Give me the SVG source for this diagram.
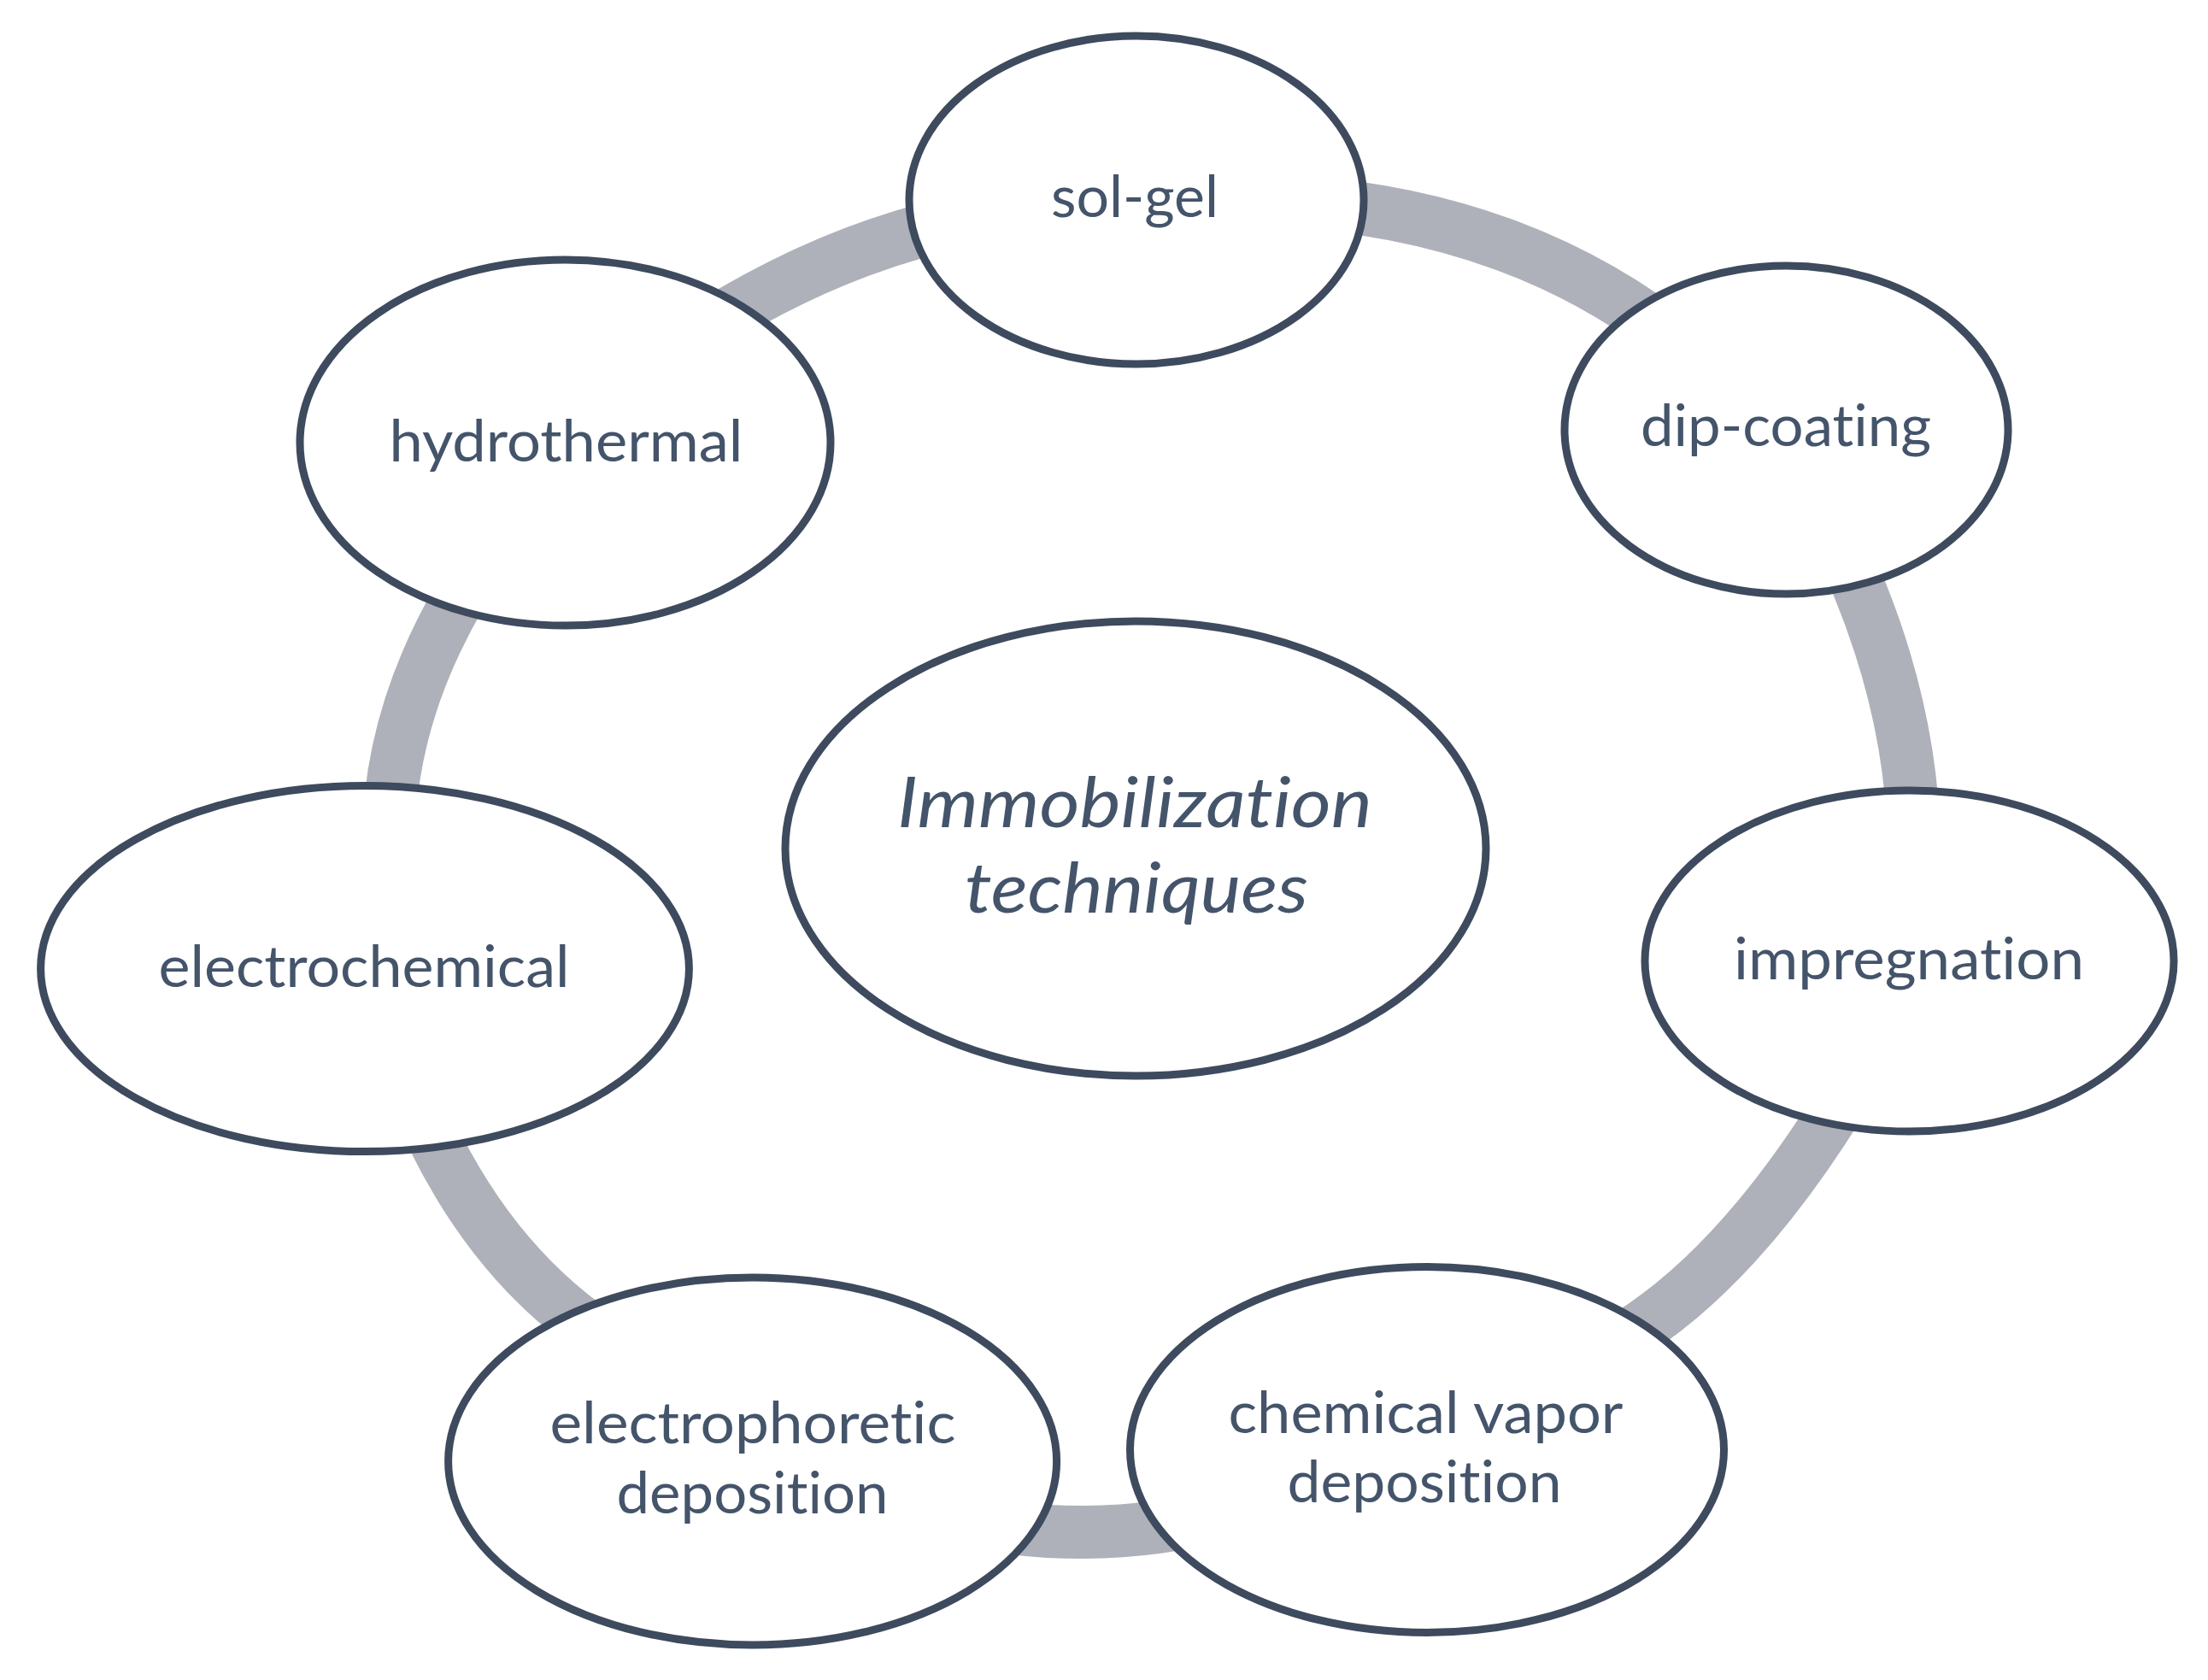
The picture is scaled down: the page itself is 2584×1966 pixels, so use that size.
<svg xmlns="http://www.w3.org/2000/svg" width="2584" height="1966" viewBox="0 0 2584 1966">
<style>
.ring{fill:none;stroke:#AEB1B9;stroke-width:62;stroke-linecap:butt}
.node{fill:#FFFFFF;stroke:#3E4A5D;stroke-width:9}
.lbl,.ctr{font-family:Lato,"Open Sans","Liberation Sans",sans-serif;fill:#44546A;text-anchor:middle;font-variant-ligatures:none;font-feature-settings:"liga" 0,"clig" 0}
.lbl{font-size:68px}
.ctr{font-size:82px;font-style:italic}
</style>
<rect x="0" y="0" width="2584" height="1966" fill="#FFFFFF"/>
<g id="connectors">
<path class="ring" d="M1520,236 Q1785,255.5 1970,405"/>
<path class="ring" d="M2145,620 Q2237.5,807 2240,990"/>
<path class="ring" d="M2175,1255 Q2047.5,1472.5 1910,1560"/>
<path class="ring" d="M1440,1770 Q1275,1813.5 1110,1775"/>
<path class="ring" d="M720,1575 Q562,1477.5 480,1270"/>
<path class="ring" d="M455,990 Q453,815 575,640"/>
<path class="ring" d="M800,400 Q965,291 1130,258"/>
</g>
<g id="node-center">
<ellipse class="node" cx="1329" cy="993" rx="410" ry="266"/>
<text class="ctr" x="1328" y="968" textLength="556" lengthAdjust="spacingAndGlyphs">Immobilization</text>
<text class="ctr" x="1330" y="1068" textLength="402" lengthAdjust="spacingAndGlyphs">techniques</text>
</g>
<g id="node-sol-gel">
<ellipse class="node" cx="1330" cy="234" rx="266" ry="192"/>
<text class="lbl" x="1328" y="254" textLength="196" lengthAdjust="spacingAndGlyphs">sol-gel</text>
</g>
<g id="node-dip-coating">
<ellipse class="node" cx="2090.5" cy="503" rx="259.5" ry="192"/>
<text class="lbl" x="2090" y="522" textLength="340" lengthAdjust="spacingAndGlyphs">dip-coating</text>
</g>
<g id="node-impregnation">
<ellipse class="node" cx="2234.5" cy="1124.5" rx="309.5" ry="199.5"/>
<text class="lbl" x="2234" y="1146" textLength="410" lengthAdjust="spacingAndGlyphs">impregnation</text>
</g>
<g id="node-cvd">
<ellipse class="node" cx="1670" cy="1696.5" rx="347.5" ry="214"/>
<text class="lbl" x="1668.5" y="1677" textLength="462" lengthAdjust="spacingAndGlyphs">chemical vapor</text>
<text class="lbl" x="1667" y="1758" textLength="321" lengthAdjust="spacingAndGlyphs">deposition</text>
</g>
<g id="node-epd">
<ellipse class="node" cx="880.6" cy="1710" rx="356" ry="215"/>
<text class="lbl" x="881" y="1689" textLength="475" lengthAdjust="spacingAndGlyphs">electrophoretic</text>
<text class="lbl" x="880.5" y="1771" textLength="318" lengthAdjust="spacingAndGlyphs">deposition</text>
</g>
<g id="node-electrochemical">
<ellipse class="node" cx="427" cy="1133.6" rx="379.4" ry="214"/>
<text class="lbl" x="426" y="1155" textLength="481" lengthAdjust="spacingAndGlyphs">electrochemical</text>
</g>
<g id="node-hydrothermal">
<ellipse class="node" cx="661.5" cy="518" rx="310.5" ry="214"/>
<text class="lbl" x="662.5" y="540" textLength="414" lengthAdjust="spacingAndGlyphs">hydrothermal</text>
</g>
</svg>
